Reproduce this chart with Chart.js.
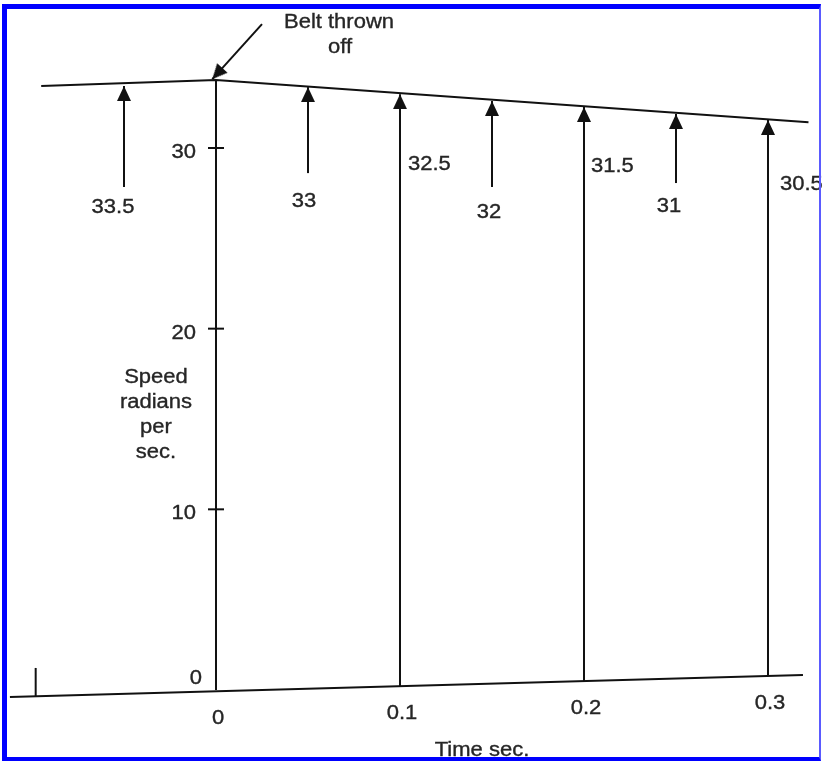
<!DOCTYPE html>
<html lang="en">
<head>
<meta charset="UTF-8">
<title>Speed after belt thrown off</title>
<script src="https://cdn.jsdelivr.net/npm/chart.js"></script>
<style>
  html, body { margin: 0; padding: 0; background: #fff; }
  #wrap { position: relative; width: 822px; height: 761px; }
  #frame {
    position: absolute; left: 2px; top: 4px; width: 819px; height: 757px;
    box-sizing: border-box; pointer-events: none;
    border-left: 5px solid #0000ff; border-top: 5px solid #0000ff;
    border-right: 2px solid #5a5aff; border-bottom: 4px solid #0000ff;
  }
</style>
</head>
<body>
<div id="wrap">
  <canvas id="myChart" width="822" height="761"></canvas>
  <div id="frame"></div>
</div>
<script>
// speed curve (time in s, speed in rad/s)
const speedTimes = [-0.095, 0, 0.322];
const speedValues = [33.43, 33.76, 31.43];

// time axis, drawn a little skewed in the sketch
const axisTimes = [-0.112, 0.319];
const axisValues = [-0.39, 0.83];

// measurement arrows: where they start and where the tip touches the curve
const arrowTimes = [-0.05, 0.05, 0.1, 0.15, 0.2, 0.25, 0.3];
const arrowFrom = [27.84, 28.61, 0.22, 27.84, 0.5, 28.06, 0.77];
const arrowTo = [33.43, 33.37, 32.98, 32.6, 32.27, 31.88, 31.55];
const arrowLabels = ['33.5', '33', '32.5', '32', '31.5', '31', '30.5'];

// axes
const yTicks = [0, 10, 20, 30];
const xTicks = [0, 0.1, 0.2, 0.3];
const xTickLabels = ['0', '0.1', '0.2', '0.3'];
const yAxisTop = 33.76;
const leftTickTime = -0.098;
const leftTickValues = [-0.34, 1.22];

// "Belt thrown off" pointer
const beltTimes = [0.025, -0.002];
const beltValues = [36.86, 33.81];

const INK = '#111111';
const TEXT = '#262626';

// arrow head image, tip sits at the centre so it lands on the point
function makeHead(w, h) {
    const c = document.createElement('canvas');
    c.width = w;
    c.height = h * 2;
    const g = c.getContext('2d');
    g.fillStyle = INK;
    g.beginPath();
    g.moveTo(w / 2, h);
    g.lineTo(w, 2 * h);
    g.lineTo(0, 2 * h);
    g.closePath();
    g.fill();
    return c;
}
const head = makeHead(14, 15);

function lineSet(points, width) {
    return {
        data: points,
        showLine: true,
        borderColor: INK,
        borderWidth: width || 2,
        pointRadius: 0,
        fill: false,
        tension: 0
    };
}

const datasets = [];
datasets.push(lineSet(speedTimes.map((t, i) => ({ x: t, y: speedValues[i] }))));
datasets.push(lineSet(axisTimes.map((t, i) => ({ x: t, y: axisValues[i] }))));
datasets.push(lineSet([{ x: 0, y: 0 }, { x: 0, y: yAxisTop }]));
datasets.push(lineSet(leftTickValues.map(v => ({ x: leftTickTime, y: v }))));
arrowTimes.forEach((t, i) => {
    datasets.push(lineSet([{ x: t, y: arrowFrom[i] }, { x: t, y: arrowTo[i] }]));
});
datasets.push(lineSet(beltTimes.map((t, i) => ({ x: t, y: beltValues[i] }))));

// tick marks crossing the speed axis
datasets.push({
    data: yTicks.filter(v => v > 0).map(v => ({ x: 0, y: v })),
    showLine: false,
    pointStyle: 'line',
    pointRadius: 8,
    borderWidth: 2,
    borderColor: INK
});

// arrow heads
datasets.push({
    data: arrowTimes.map((t, i) => ({ x: t, y: arrowTo[i] })),
    showLine: false,
    pointStyle: head,
    pointRadius: 7
});
datasets.push({
    data: [{ x: beltTimes[1], y: beltValues[1] }],
    showLine: false,
    pointStyle: head,
    pointRadius: 7,
    rotation: 222
});

// label offsets (px) from each arrow tip
const labelPlace = [
    { dx: -11, dy: 127, align: 'center' },
    { dx: -4, dy: 120, align: 'center' },
    { dx: 8, dy: 76, align: 'left' },
    { dx: -3, dy: 117, align: 'center' },
    { dx: 7, dy: 65, align: 'left' },
    { dx: -7, dy: 98, align: 'center' },
    { dx: 12, dy: 70, align: 'left' }
];

function drawText(ctx, s, x, y, align) {
    ctx.save();
    ctx.translate(x, y);
    ctx.scale(1.1, 1);
    ctx.textAlign = align;
    ctx.fillText(s, 0, 0);
    ctx.strokeText(s, 0, 0);
    ctx.restore();
}

const sketchText = {
    id: 'sketchText',
    afterDatasetsDraw(chart) {
        const ctx = chart.ctx;
        const xs = chart.scales.x;
        const ys = chart.scales.y;
        ctx.save();
        ctx.font = '20px "Liberation Sans", Arial, sans-serif';
        ctx.fillStyle = TEXT;
        ctx.strokeStyle = TEXT;
        ctx.lineWidth = 0.35;
        ctx.textBaseline = 'alphabetic';

        // arrow readings
        arrowLabels.forEach((s, i) => {
            const p = labelPlace[i];
            const x = xs.getPixelForValue(arrowTimes[i]) + p.dx;
            const y = ys.getPixelForValue(arrowTo[i]) + p.dy;
            drawText(ctx, s, x, y, p.align);
        });

        // speed axis tick labels
        const ax = xs.getPixelForValue(0);
        yTicks.forEach(v => {
            const y = ys.getPixelForValue(v);
            if (v === 0) drawText(ctx, '0', ax - 14, y - 6, 'right');
            else drawText(ctx, String(v), ax - 20, y + 10, 'right');
        });

        // time tick labels follow the skewed axis line
        const x0 = xs.getPixelForValue(axisTimes[0]), y0 = ys.getPixelForValue(axisValues[0]);
        const x1 = xs.getPixelForValue(axisTimes[1]), y1 = ys.getPixelForValue(axisValues[1]);
        xTicks.forEach((t, i) => {
            const x = xs.getPixelForValue(t);
            const yl = y0 + (y1 - y0) * (x - x0) / (x1 - x0);
            drawText(ctx, xTickLabels[i], x + 2, yl + 33, 'center');
        });

        // axis titles
        ['Speed', 'radians', 'per', 'sec.'].forEach((s, i) => {
            drawText(ctx, s, ax - 60, 383 + i * 25, 'center');
        });
        drawText(ctx, 'Time sec.', ax + 266, 756, 'center');

        // pointer caption
        const bx = xs.getPixelForValue(beltTimes[0]);
        const by = ys.getPixelForValue(beltValues[0]);
        drawText(ctx, 'Belt thrown', bx + 77, by + 4, 'center');
        drawText(ctx, 'off', bx + 78, by + 29, 'center');
        ctx.restore();
    }
};

const ctx = document.getElementById('myChart').getContext('2d');
new Chart(ctx, {
    type: 'scatter',
    data: { datasets: datasets },
    options: {
        responsive: false,
        animation: false,
        events: [],
        layout: { padding: 0, autoPadding: false },
        plugins: {
            legend: { display: false },
            tooltip: { enabled: false }
        },
        elements: { line: { borderCapStyle: 'butt' } },
        scales: {
            x: { type: 'linear', display: false, min: -0.117391, max: 0.329348 },
            y: { type: 'linear', display: false, min: -3.93, max: 38.191 }
        }
    },
    plugins: [sketchText]
});
</script>
</body>
</html>
